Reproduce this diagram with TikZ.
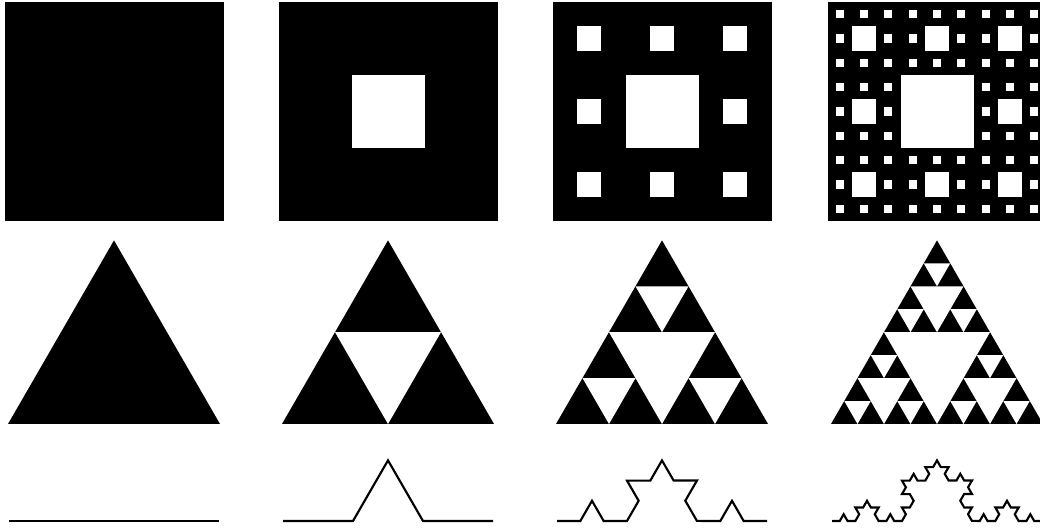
\documentclass[tikz,border=0pt]{standalone}
\usetikzlibrary{decorations.fractals}
\tikzset{
  solid part/.style={fill=black},
  hole/.style={fill=white},
  koch line/.style={line width=1.6pt,line join=miter,decoration=Koch snowflake},
}

\begin{document}
\begin{tikzpicture}[x=0.75pt,y=0.75pt]
\useasboundingbox (0,0) rectangle (1040,530);
\clip (0,0) rectangle (1040,530);
% carpet row
\foreach \c/\lev in {114/0,388/1,662/2,937/3}{
  \fill[solid part] (\c-109.5,309) rectangle +(219,219);
  \ifnum\lev>0
  \foreach \k in {1,...,\lev}{
    \pgfmathsetmacro\s{219/3^\k}
    \pgfmathtruncatemacro\n{3^(\k-1)-1}
    \foreach \i in {0,...,\n}
      \foreach \j in {0,...,\n}
        \fill[hole] (\c-109.5+3*\i*\s+\s,309+3*\j*\s+\s) rectangle +(\s,\s);
  }
  \fi
}
% gasket row
\foreach \c/\lev in {114/0,388/1,662/2,937/3}{
  \fill[solid part] (\c-106,106) -- (\c+106,106) -- (\c,106+183.6) -- cycle;
  \ifnum\lev>0
  \foreach \k in {1,...,\lev}{
    \pgfmathsetmacro\a{212/2^(\k-1)}
    \pgfmathsetmacro\h{\a*0.866}
    \pgfmathtruncatemacro\n{2^(\k-1)-1}
    \foreach \r in {0,...,\n}{
      \pgfmathtruncatemacro\m{\n-\r}
      \foreach \i in {0,...,\m}
        \fill[hole] (\c-106+\i*\a+\r*\a/2+\a/4,106+\r*\h+\h/2)
          -- ++(\a/2,0) -- ++(-\a/4,-\h/2) -- cycle;
    }
  }
  \fi
}
% Koch row
\draw[koch line] (9,9) -- (219,9);
\draw[koch line] decorate{(283,9) -- (493,9)};
\draw[koch line] decorate{decorate{(557,9) -- (767,9)}};
\draw[koch line] decorate{decorate{decorate{(832,9) -- (1042,9)}}};
\end{tikzpicture}
\end{document}
